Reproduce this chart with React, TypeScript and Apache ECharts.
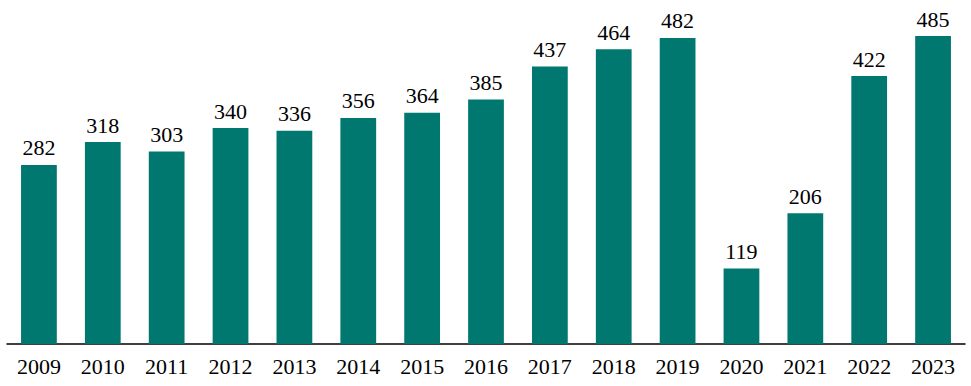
import React, { useEffect, useRef } from "react";
import * as echarts from "echarts";

const years = ["2009","2010","2011","2012","2013","2014","2015","2016","2017","2018","2019","2020","2021","2022","2023"];
const values = [282,318,303,340,336,356,364,385,437,464,482,119,206,422,485];

export default function App() {
  const ref = useRef<HTMLDivElement>(null);
  useEffect(() => {
    const chart = echarts.init(ref.current!, null, { renderer: "svg" });
    const font = "'Liberation Serif', 'DejaVu Serif', serif";
    chart.setOption({
      animation: false,
      grid: { left: 7, right: 6, top: 26.5, bottom: 42, containLabel: false },
      xAxis: {
        type: "category",
        data: years,
        axisLine: { lineStyle: { color: "#000", width: 1.5 } },
        axisTick: { show: false },
        axisLabel: { color: "#000", fontFamily: font, fontSize: 22, margin: 11 },
      },
      yAxis: { type: "value", min: 0, max: 500, show: false, splitLine: { show: false } },
      series: [{
        type: "bar",
        data: values,
        barWidth: "56%",
        itemStyle: { color: "#00786F" },
        label: { show: true, position: "top", distance: 6, color: "#000", fontFamily: font, fontSize: 22 },
      }],
    });
    return () => chart.dispose();
  }, []);
  return <div ref={ref} style={{ width: 971, height: 386, position: "absolute", left: 0, top: 0 }} />;
}
